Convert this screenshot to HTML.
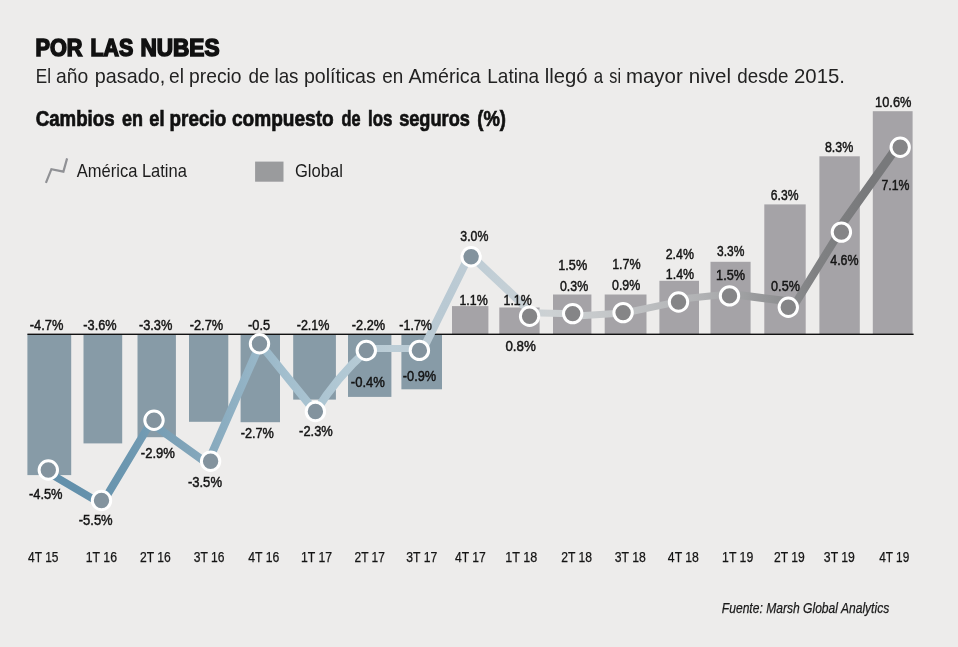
<!DOCTYPE html>
<html lang="es">
<head>
<meta charset="utf-8">
<title>Por las nubes</title>
<style>
html,body{margin:0;padding:0;background:#edeceb;}
body{width:958px;height:647px;overflow:hidden;}
svg{display:block;font-family:"Liberation Sans",Arial,sans-serif;}
</style>
</head>
<body>
<svg width="958" height="647" viewBox="0 0 958 647">
<rect x="0" y="0" width="958" height="647" fill="#edeceb"/>

<g>
<rect x="27.4" y="334.3" width="43.8" height="140.8" fill="#879ba7"/>
<rect x="83.5" y="334.3" width="38.7" height="109.1" fill="#879ba7"/>
<rect x="137.5" y="334.3" width="38.4" height="102.9" fill="#879ba7"/>
<rect x="189.0" y="334.3" width="39.3" height="87.5" fill="#879ba7"/>
<rect x="240.6" y="334.3" width="39.4" height="87.9" fill="#879ba7"/>
<rect x="293.2" y="334.3" width="42.7" height="65.3" fill="#879ba7"/>
<rect x="348.0" y="334.3" width="43.4" height="62.6" fill="#879ba7"/>
<rect x="401.4" y="334.3" width="40.6" height="55.0" fill="#879ba7"/>
<rect x="452.0" y="306.1" width="36.4" height="28.2" fill="#a5a3a7"/>
<rect x="499.3" y="307.5" width="40.3" height="26.8" fill="#a5a3a7"/>
<rect x="553.0" y="294.5" width="38.4" height="39.8" fill="#a5a3a7"/>
<rect x="604.7" y="294.5" width="41.8" height="39.8" fill="#a5a3a7"/>
<rect x="659.4" y="280.8" width="39.6" height="53.5" fill="#a5a3a7"/>
<rect x="710.5" y="261.8" width="40.1" height="72.5" fill="#a5a3a7"/>
<rect x="764.3" y="204.4" width="41.4" height="129.9" fill="#a5a3a7"/>
<rect x="819.4" y="156.3" width="40.4" height="178.0" fill="#a5a3a7"/>
<rect x="872.8" y="111.2" width="39.8" height="223.1" fill="#a5a3a7"/>
</g>
<rect x="27.4" y="333.6" width="886.2" height="1.4" fill="#111"/>
<defs><linearGradient id="lg" gradientUnits="userSpaceOnUse" x1="48.3" y1="0" x2="900.2" y2="0">
<stop offset="0.0312" stop-color="#6390ab"/>
<stop offset="0.0933" stop-color="#6c97b0"/>
<stop offset="0.1573" stop-color="#7fa3b8"/>
<stop offset="0.2192" stop-color="#8fb0c3"/>
<stop offset="0.2807" stop-color="#a3bfce"/>
<stop offset="0.3434" stop-color="#b1c8d4"/>
<stop offset="0.4044" stop-color="#bccdd6"/>
<stop offset="0.4660" stop-color="#b9c9d3"/>
<stop offset="0.5306" stop-color="#c3cfd6"/>
<stop offset="0.5903" stop-color="#cdd1d3"/>
<stop offset="0.6451" stop-color="#c6c9cb"/>
<stop offset="0.7072" stop-color="#bbbdbf"/>
<stop offset="0.7697" stop-color="#b0b1b3"/>
<stop offset="0.8341" stop-color="#98999b"/>
<stop offset="0.8998" stop-color="#808183"/>
<stop offset="0.9655" stop-color="#78797b"/>
</linearGradient></defs>
<g fill="none" stroke="url(#lg)" stroke-linejoin="round" stroke-linecap="round">
<path d="M48.2,472.5 L100.4,503.2" stroke-width="7.5"/>
<path d="M102.3,503.2 L149.9,424.0" stroke-width="7.9"/>
<path d="M152.5,424.0 L207.0,463.2" stroke-width="8.0"/>
<path d="M207.6,463.2 L260.1,344.0" stroke-width="8.1"/>
<path d="M259.5,343.0 L315.5,411.9" stroke-width="8.3"/>
<path d="M315.5,411.6 Q336.6,377.5 366.3,350.7" stroke-width="8.2"/>
<path d="M366.5,348.5 L419.6,348.5" stroke-width="7.1"/>
<path d="M423.3,348.6 L468.2,257.8" stroke-width="8.1"/>
<path d="M472.3,256.8 L530.1,311.2" stroke-width="8.1"/>
<path d="M530.1,312.7 L572.7,313.8" stroke-width="7.0"/>
<path d="M572.7,316.2 L623.1,313.0" stroke-width="7.0"/>
<path d="M623.1,313.2 L678.5,301.6" stroke-width="7.1"/>
<path d="M678.5,299.3 L729.5,294.0" stroke-width="7.1"/>
<path d="M729.5,293.8 L796.1,302.3 L839.4,232.3" stroke-width="8.0" stroke-linejoin="miter"/>
<path d="M836.3,232.3 L896.7,147.5" stroke-width="8.5"/>
</g>
<g stroke="#fff" stroke-width="3.0">
<circle cx="48.3" cy="470.0" r="9.2" fill="#83939e"/>
<circle cx="101.5" cy="500.5" r="9.2" fill="#83939e"/>
<circle cx="154.0" cy="420.2" r="9.2" fill="#83939e"/>
<circle cx="210.6" cy="461.3" r="9.2" fill="#83939e"/>
<circle cx="259.5" cy="343.8" r="9.2" fill="#83939e"/>
<circle cx="315.4" cy="411.5" r="9.2" fill="#83939e"/>
<circle cx="366.3" cy="350.5" r="9.2" fill="#83939e"/>
<circle cx="419.4" cy="350.4" r="9.2" fill="#83939e"/>
<circle cx="471.1" cy="256.8" r="9.2" fill="#83939e"/>
<circle cx="529.6" cy="316.2" r="9.2" fill="#858587"/>
<circle cx="572.7" cy="313.6" r="9.2" fill="#858587"/>
<circle cx="623.1" cy="312.6" r="9.2" fill="#858587"/>
<circle cx="678.5" cy="302.0" r="9.2" fill="#858587"/>
<circle cx="729.5" cy="295.9" r="9.2" fill="#858587"/>
<circle cx="788.3" cy="307.3" r="9.2" fill="#858587"/>
<circle cx="841.4" cy="232.1" r="9.2" fill="#858587"/>
<circle cx="900.2" cy="147.3" r="9.2" fill="#858587"/>
</g>
<g>
<text x="29.83" y="329.6" font-size="14.0" font-weight="normal" font-style="normal" fill="#141414" textLength="33.56" lengthAdjust="spacingAndGlyphs" stroke="#141414" stroke-width="0.45" stroke-linejoin="miter">-4.7%</text>
<text x="83.32" y="329.6" font-size="14.0" font-weight="normal" font-style="normal" fill="#141414" textLength="33.26" lengthAdjust="spacingAndGlyphs" stroke="#141414" stroke-width="0.45" stroke-linejoin="miter">-3.6%</text>
<text x="138.92" y="329.6" font-size="14.0" font-weight="normal" font-style="normal" fill="#141414" textLength="33.46" lengthAdjust="spacingAndGlyphs" stroke="#141414" stroke-width="0.45" stroke-linejoin="miter">-3.3%</text>
<text x="189.72" y="329.6" font-size="14.0" font-weight="normal" font-style="normal" fill="#141414" textLength="33.46" lengthAdjust="spacingAndGlyphs" stroke="#141414" stroke-width="0.45" stroke-linejoin="miter">-2.7%</text>
<text x="248.03" y="329.6" font-size="14.0" font-weight="normal" font-style="normal" fill="#141414" textLength="22.05" lengthAdjust="spacingAndGlyphs" stroke="#141414" stroke-width="0.45" stroke-linejoin="miter">-0.5</text>
<text x="296.73" y="329.6" font-size="14.0" font-weight="normal" font-style="normal" fill="#141414" textLength="32.75" lengthAdjust="spacingAndGlyphs" stroke="#141414" stroke-width="0.45" stroke-linejoin="miter">-2.1%</text>
<text x="351.83" y="329.6" font-size="14.0" font-weight="normal" font-style="normal" fill="#141414" textLength="33.36" lengthAdjust="spacingAndGlyphs" stroke="#141414" stroke-width="0.45" stroke-linejoin="miter">-2.2%</text>
<text x="399.33" y="329.6" font-size="14.0" font-weight="normal" font-style="normal" fill="#141414" textLength="32.65" lengthAdjust="spacingAndGlyphs" stroke="#141414" stroke-width="0.45" stroke-linejoin="miter">-1.7%</text>
<text x="28.93" y="499.0" font-size="14.0" font-weight="normal" font-style="normal" fill="#141414" textLength="33.66" lengthAdjust="spacingAndGlyphs" stroke="#141414" stroke-width="0.45" stroke-linejoin="miter">-4.5%</text>
<text x="78.72" y="525.1" font-size="14.0" font-weight="normal" font-style="normal" fill="#141414" textLength="33.97" lengthAdjust="spacingAndGlyphs" stroke="#141414" stroke-width="0.45" stroke-linejoin="miter">-5.5%</text>
<text x="140.82" y="457.6" font-size="14.0" font-weight="normal" font-style="normal" fill="#141414" textLength="34.07" lengthAdjust="spacingAndGlyphs" stroke="#141414" stroke-width="0.45" stroke-linejoin="miter">-2.9%</text>
<text x="187.92" y="487.4" font-size="14.0" font-weight="normal" font-style="normal" fill="#141414" textLength="34.07" lengthAdjust="spacingAndGlyphs" stroke="#141414" stroke-width="0.45" stroke-linejoin="miter">-3.5%</text>
<text x="240.72" y="437.5" font-size="14.0" font-weight="normal" font-style="normal" fill="#141414" textLength="33.16" lengthAdjust="spacingAndGlyphs" stroke="#141414" stroke-width="0.45" stroke-linejoin="miter">-2.7%</text>
<text x="299.12" y="436.0" font-size="14.0" font-weight="normal" font-style="normal" fill="#141414" textLength="33.66" lengthAdjust="spacingAndGlyphs" stroke="#141414" stroke-width="0.45" stroke-linejoin="miter">-2.3%</text>
<text x="350.83" y="386.7" font-size="14.0" font-weight="normal" font-style="normal" fill="#141414" textLength="34.07" lengthAdjust="spacingAndGlyphs" stroke="#141414" stroke-width="0.45" stroke-linejoin="miter">-0.4%</text>
<text x="402.83" y="380.6" font-size="14.0" font-weight="normal" font-style="normal" fill="#141414" textLength="33.36" lengthAdjust="spacingAndGlyphs" stroke="#141414" stroke-width="0.45" stroke-linejoin="miter">-0.9%</text>
<text x="460.33" y="240.5" font-size="14.0" font-weight="normal" font-style="normal" fill="#141414" textLength="28.04" lengthAdjust="spacingAndGlyphs" stroke="#141414" stroke-width="0.45" stroke-linejoin="miter">3.0%</text>
<text x="459.44" y="304.7" font-size="14.0" font-weight="normal" font-style="normal" fill="#141414" textLength="28.23" lengthAdjust="spacingAndGlyphs" stroke="#141414" stroke-width="0.45" stroke-linejoin="miter">1.1%</text>
<text x="503.54" y="304.7" font-size="14.0" font-weight="normal" font-style="normal" fill="#141414" textLength="28.23" lengthAdjust="spacingAndGlyphs" stroke="#141414" stroke-width="0.45" stroke-linejoin="miter">1.1%</text>
<text x="505.43" y="350.8" font-size="14.0" font-weight="normal" font-style="normal" fill="#141414" textLength="30.38" lengthAdjust="spacingAndGlyphs" stroke="#141414" stroke-width="0.45" stroke-linejoin="miter">0.8%</text>
<text x="558.32" y="269.9" font-size="14.0" font-weight="normal" font-style="normal" fill="#141414" textLength="28.86" lengthAdjust="spacingAndGlyphs" stroke="#141414" stroke-width="0.45" stroke-linejoin="miter">1.5%</text>
<text x="559.93" y="290.6" font-size="14.0" font-weight="normal" font-style="normal" fill="#141414" textLength="28.25" lengthAdjust="spacingAndGlyphs" stroke="#141414" stroke-width="0.45" stroke-linejoin="miter">0.3%</text>
<text x="612.13" y="268.6" font-size="14.0" font-weight="normal" font-style="normal" fill="#141414" textLength="28.55" lengthAdjust="spacingAndGlyphs" stroke="#141414" stroke-width="0.45" stroke-linejoin="miter">1.7%</text>
<text x="612.02" y="290.0" font-size="14.0" font-weight="normal" font-style="normal" fill="#141414" textLength="28.25" lengthAdjust="spacingAndGlyphs" stroke="#141414" stroke-width="0.45" stroke-linejoin="miter">0.9%</text>
<text x="665.73" y="258.6" font-size="14.0" font-weight="normal" font-style="normal" fill="#141414" textLength="28.15" lengthAdjust="spacingAndGlyphs" stroke="#141414" stroke-width="0.45" stroke-linejoin="miter">2.4%</text>
<text x="665.84" y="279.3" font-size="14.0" font-weight="normal" font-style="normal" fill="#141414" textLength="28.34" lengthAdjust="spacingAndGlyphs" stroke="#141414" stroke-width="0.45" stroke-linejoin="miter">1.4%</text>
<text x="717.02" y="255.6" font-size="14.0" font-weight="normal" font-style="normal" fill="#141414" textLength="27.33" lengthAdjust="spacingAndGlyphs" stroke="#141414" stroke-width="0.45" stroke-linejoin="miter">3.3%</text>
<text x="716.12" y="280.0" font-size="14.0" font-weight="normal" font-style="normal" fill="#141414" textLength="28.96" lengthAdjust="spacingAndGlyphs" stroke="#141414" stroke-width="0.45" stroke-linejoin="miter">1.5%</text>
<text x="770.83" y="199.8" font-size="14.0" font-weight="normal" font-style="normal" fill="#141414" textLength="27.64" lengthAdjust="spacingAndGlyphs" stroke="#141414" stroke-width="0.45" stroke-linejoin="miter">6.3%</text>
<text x="771.12" y="290.7" font-size="14.0" font-weight="normal" font-style="normal" fill="#141414" textLength="28.75" lengthAdjust="spacingAndGlyphs" stroke="#141414" stroke-width="0.45" stroke-linejoin="miter">0.5%</text>
<text x="824.93" y="151.8" font-size="14.0" font-weight="normal" font-style="normal" fill="#141414" textLength="28.35" lengthAdjust="spacingAndGlyphs" stroke="#141414" stroke-width="0.45" stroke-linejoin="miter">8.3%</text>
<text x="830.23" y="265.3" font-size="14.0" font-weight="normal" font-style="normal" fill="#141414" textLength="28.35" lengthAdjust="spacingAndGlyphs" stroke="#141414" stroke-width="0.45" stroke-linejoin="miter">4.6%</text>
<text x="875.11" y="106.6" font-size="14.0" font-weight="normal" font-style="normal" fill="#141414" textLength="36.27" lengthAdjust="spacingAndGlyphs" stroke="#141414" stroke-width="0.45" stroke-linejoin="miter">10.6%</text>
<text x="881.43" y="190.0" font-size="14.0" font-weight="normal" font-style="normal" fill="#141414" textLength="27.94" lengthAdjust="spacingAndGlyphs" stroke="#141414" stroke-width="0.45" stroke-linejoin="miter">7.1%</text>
</g><g>
<text x="28.12" y="561.5" font-size="14.8" font-weight="normal" font-style="normal" fill="#141414" textLength="30.33" lengthAdjust="spacingAndGlyphs" stroke="#141414" stroke-width="0.25" stroke-linejoin="miter">4T 15</text>
<text x="85.80" y="561.5" font-size="14.8" font-weight="normal" font-style="normal" fill="#141414" textLength="31.16" lengthAdjust="spacingAndGlyphs" stroke="#141414" stroke-width="0.25" stroke-linejoin="miter">1T 16</text>
<text x="140.03" y="561.5" font-size="14.8" font-weight="normal" font-style="normal" fill="#141414" textLength="30.74" lengthAdjust="spacingAndGlyphs" stroke="#141414" stroke-width="0.25" stroke-linejoin="miter">2T 16</text>
<text x="193.82" y="561.5" font-size="14.8" font-weight="normal" font-style="normal" fill="#141414" textLength="30.64" lengthAdjust="spacingAndGlyphs" stroke="#141414" stroke-width="0.25" stroke-linejoin="miter">3T 16</text>
<text x="248.22" y="561.5" font-size="14.8" font-weight="normal" font-style="normal" fill="#141414" textLength="31.04" lengthAdjust="spacingAndGlyphs" stroke="#141414" stroke-width="0.25" stroke-linejoin="miter">4T 16</text>
<text x="300.90" y="561.5" font-size="14.8" font-weight="normal" font-style="normal" fill="#141414" textLength="31.16" lengthAdjust="spacingAndGlyphs" stroke="#141414" stroke-width="0.25" stroke-linejoin="miter">1T 17</text>
<text x="354.52" y="561.5" font-size="14.8" font-weight="normal" font-style="normal" fill="#141414" textLength="30.33" lengthAdjust="spacingAndGlyphs" stroke="#141414" stroke-width="0.25" stroke-linejoin="miter">2T 17</text>
<text x="406.32" y="561.5" font-size="14.8" font-weight="normal" font-style="normal" fill="#141414" textLength="30.94" lengthAdjust="spacingAndGlyphs" stroke="#141414" stroke-width="0.25" stroke-linejoin="miter">3T 17</text>
<text x="455.02" y="561.5" font-size="14.8" font-weight="normal" font-style="normal" fill="#141414" textLength="30.74" lengthAdjust="spacingAndGlyphs" stroke="#141414" stroke-width="0.25" stroke-linejoin="miter">4T 17</text>
<text x="505.28" y="561.5" font-size="14.8" font-weight="normal" font-style="normal" fill="#141414" textLength="31.89" lengthAdjust="spacingAndGlyphs" stroke="#141414" stroke-width="0.25" stroke-linejoin="miter">1T 18</text>
<text x="561.23" y="561.5" font-size="14.8" font-weight="normal" font-style="normal" fill="#141414" textLength="30.74" lengthAdjust="spacingAndGlyphs" stroke="#141414" stroke-width="0.25" stroke-linejoin="miter">2T 18</text>
<text x="614.73" y="561.5" font-size="14.8" font-weight="normal" font-style="normal" fill="#141414" textLength="31.04" lengthAdjust="spacingAndGlyphs" stroke="#141414" stroke-width="0.25" stroke-linejoin="miter">3T 18</text>
<text x="667.83" y="561.5" font-size="14.8" font-weight="normal" font-style="normal" fill="#141414" textLength="31.04" lengthAdjust="spacingAndGlyphs" stroke="#141414" stroke-width="0.25" stroke-linejoin="miter">4T 18</text>
<text x="722.10" y="561.5" font-size="14.8" font-weight="normal" font-style="normal" fill="#141414" textLength="31.16" lengthAdjust="spacingAndGlyphs" stroke="#141414" stroke-width="0.25" stroke-linejoin="miter">1T 19</text>
<text x="774.02" y="561.5" font-size="14.8" font-weight="normal" font-style="normal" fill="#141414" textLength="30.74" lengthAdjust="spacingAndGlyphs" stroke="#141414" stroke-width="0.25" stroke-linejoin="miter">2T 19</text>
<text x="823.83" y="561.5" font-size="14.8" font-weight="normal" font-style="normal" fill="#141414" textLength="31.04" lengthAdjust="spacingAndGlyphs" stroke="#141414" stroke-width="0.25" stroke-linejoin="miter">3T 19</text>
<text x="879.23" y="561.5" font-size="14.8" font-weight="normal" font-style="normal" fill="#141414" textLength="30.03" lengthAdjust="spacingAndGlyphs" stroke="#141414" stroke-width="0.25" stroke-linejoin="miter">4T 19</text>
</g>
<text x="35.48" y="55.5" font-size="23.6" font-weight="bold" font-style="normal" fill="#111" textLength="46.95" lengthAdjust="spacingAndGlyphs" stroke="#111" stroke-width="1.6" stroke-linejoin="miter">POR</text>
<text x="90.39" y="55.5" font-size="23.6" font-weight="bold" font-style="normal" fill="#111" textLength="42.77" lengthAdjust="spacingAndGlyphs" stroke="#111" stroke-width="1.6" stroke-linejoin="miter">LAS</text>
<text x="140.44" y="55.5" font-size="23.6" font-weight="bold" font-style="normal" fill="#111" textLength="79.06" lengthAdjust="spacingAndGlyphs" stroke="#111" stroke-width="1.6" stroke-linejoin="miter">NUBES</text>
<g>
<text x="35.78" y="83.1" font-size="20.8" font-weight="normal" font-style="normal" fill="#222" textLength="15.24" lengthAdjust="spacingAndGlyphs">El</text>
<text x="56.00" y="83.1" font-size="20.8" font-weight="normal" font-style="normal" fill="#222" textLength="32.23" lengthAdjust="spacingAndGlyphs">año</text>
<text x="94.85" y="83.1" font-size="20.8" font-weight="normal" font-style="normal" fill="#222" textLength="70.34" lengthAdjust="spacingAndGlyphs">pasado,</text>
<text x="169.10" y="83.1" font-size="20.8" font-weight="normal" font-style="normal" fill="#222" textLength="14.87" lengthAdjust="spacingAndGlyphs">el</text>
<text x="189.07" y="83.1" font-size="20.8" font-weight="normal" font-style="normal" fill="#222" textLength="52.55" lengthAdjust="spacingAndGlyphs">precio</text>
<text x="248.40" y="83.1" font-size="20.8" font-weight="normal" font-style="normal" fill="#222" textLength="21.01" lengthAdjust="spacingAndGlyphs">de</text>
<text x="274.50" y="83.1" font-size="20.8" font-weight="normal" font-style="normal" fill="#222" textLength="23.96" lengthAdjust="spacingAndGlyphs">las</text>
<text x="303.96" y="83.1" font-size="20.8" font-weight="normal" font-style="normal" fill="#222" textLength="71.82" lengthAdjust="spacingAndGlyphs">políticas</text>
<text x="382.20" y="83.1" font-size="20.8" font-weight="normal" font-style="normal" fill="#222" textLength="21.01" lengthAdjust="spacingAndGlyphs">en</text>
<text x="408.50" y="83.1" font-size="20.8" font-weight="normal" font-style="normal" fill="#222" textLength="72.09" lengthAdjust="spacingAndGlyphs">América</text>
<text x="487.29" y="83.1" font-size="20.8" font-weight="normal" font-style="normal" fill="#222" textLength="51.72" lengthAdjust="spacingAndGlyphs">Latina</text>
<text x="544.83" y="83.1" font-size="20.8" font-weight="normal" font-style="normal" fill="#222" textLength="42.83" lengthAdjust="spacingAndGlyphs">llegó</text>
<text x="593.80" y="83.1" font-size="20.8" font-weight="normal" font-style="normal" fill="#222" textLength="9.35" lengthAdjust="spacingAndGlyphs">a</text>
<text x="609.30" y="83.1" font-size="20.8" font-weight="normal" font-style="normal" fill="#222" textLength="11.68" lengthAdjust="spacingAndGlyphs">si</text>
<text x="625.92" y="83.1" font-size="20.8" font-weight="normal" font-style="normal" fill="#222" textLength="56.81" lengthAdjust="spacingAndGlyphs">mayor</text>
<text x="688.71" y="83.1" font-size="20.8" font-weight="normal" font-style="normal" fill="#222" textLength="42.30" lengthAdjust="spacingAndGlyphs">nivel</text>
<text x="737.30" y="83.1" font-size="20.8" font-weight="normal" font-style="normal" fill="#222" textLength="51.21" lengthAdjust="spacingAndGlyphs">desde</text>
<text x="794.02" y="83.1" font-size="20.8" font-weight="normal" font-style="normal" fill="#222" textLength="50.92" lengthAdjust="spacingAndGlyphs">2015.</text>
</g>
<g>
<text x="35.75" y="126.4" font-size="21.6" font-weight="bold" font-style="normal" fill="#111" textLength="78.81" lengthAdjust="spacingAndGlyphs" stroke="#111" stroke-width="0.7" stroke-linejoin="miter">Cambios</text>
<text x="122.05" y="126.4" font-size="21.6" font-weight="bold" font-style="normal" fill="#111" textLength="20.99" lengthAdjust="spacingAndGlyphs" stroke="#111" stroke-width="0.7" stroke-linejoin="miter">en</text>
<text x="149.35" y="126.4" font-size="21.6" font-weight="bold" font-style="normal" fill="#111" textLength="15.14" lengthAdjust="spacingAndGlyphs" stroke="#111" stroke-width="0.7" stroke-linejoin="miter">el</text>
<text x="169.58" y="126.4" font-size="21.6" font-weight="bold" font-style="normal" fill="#111" textLength="56.64" lengthAdjust="spacingAndGlyphs" stroke="#111" stroke-width="0.7" stroke-linejoin="miter">precio</text>
<text x="231.95" y="126.4" font-size="21.6" font-weight="bold" font-style="normal" fill="#111" textLength="101.77" lengthAdjust="spacingAndGlyphs" stroke="#111" stroke-width="0.7" stroke-linejoin="miter">compuesto</text>
<text x="341.55" y="126.4" font-size="21.6" font-weight="bold" font-style="normal" fill="#111" textLength="19.01" lengthAdjust="spacingAndGlyphs" stroke="#111" stroke-width="0.7" stroke-linejoin="miter">de</text>
<text x="367.97" y="126.4" font-size="21.6" font-weight="bold" font-style="normal" fill="#111" textLength="24.29" lengthAdjust="spacingAndGlyphs" stroke="#111" stroke-width="0.7" stroke-linejoin="miter">los</text>
<text x="399.15" y="126.4" font-size="21.6" font-weight="bold" font-style="normal" fill="#111" textLength="70.71" lengthAdjust="spacingAndGlyphs" stroke="#111" stroke-width="0.7" stroke-linejoin="miter">seguros</text>
<text x="477.29" y="126.4" font-size="21.6" font-weight="bold" font-style="normal" fill="#111" textLength="28.72" lengthAdjust="spacingAndGlyphs" stroke="#111" stroke-width="0.7" stroke-linejoin="miter">(%)</text>
</g>
<polyline points="45.9,182.8 51.4,169.2 63.4,171.6 67.1,158.4" fill="none" stroke="#909195" stroke-width="2.2" stroke-linecap="butt" stroke-linejoin="miter"/>
<text x="76.80" y="176.5" font-size="17.8" font-weight="normal" font-style="normal" fill="#1c1c1c" textLength="110.10" lengthAdjust="spacingAndGlyphs">América Latina</text>
<rect x="255.1" y="161.6" width="28.4" height="20.1" fill="#9a9b9d"/>
<text x="294.90" y="176.5" font-size="17.8" font-weight="normal" font-style="normal" fill="#1c1c1c" textLength="47.99" lengthAdjust="spacingAndGlyphs">Global</text>
<text x="721.83" y="613.3" font-size="14.9" font-weight="normal" font-style="italic" fill="#1a1a1a" textLength="167.40" lengthAdjust="spacingAndGlyphs" stroke="#1a1a1a" stroke-width="0.25" stroke-linejoin="miter">Fuente: Marsh Global Analytics</text>
</svg>
</body>
</html>
